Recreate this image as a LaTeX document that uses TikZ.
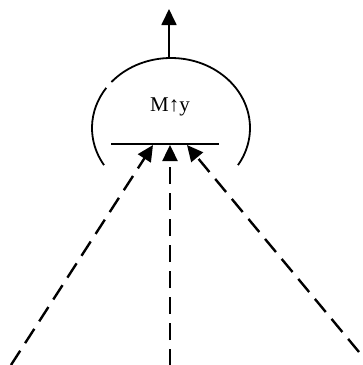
\documentclass[tikz,border=0pt]{standalone}
\usepackage{fontspec}
\setmainfont{Liberation Serif}
\usetikzlibrary{arrows.meta}
\begin{document}
\begin{tikzpicture}[x=1pt,y=1pt,
  solidline/.style={line width=1.8pt},
  dashline/.style={line width=2.4pt,dash pattern=on 17pt off 9pt},
  bigtip/.style={-{Triangle[length=16pt,width=15pt]}},
  lbl/.style={inner sep=0pt,font=\fontsize{21pt}{25pt}\selectfont}]
\useasboundingbox (0,0) rectangle (363,-365);
% top arrow
\coordinate (arctop) at (169,-58);
\coordinate (top) at (169,-9);
\draw[solidline,bigtip] (arctop) -- (top);
% ellipse arcs
\draw[solidline] (171,-128) ++(139:79 and 70) arc[start angle=139,end angle=-32,x radius=79,y radius=70];
\draw[solidline] (171,-128) ++(145:79 and 70) arc[start angle=145,end angle=212,x radius=79,y radius=70];
% label
\node[lbl] (m) at (170,-107) {M↑y};
% horizontal bar
\coordinate (barl) at (111,-144);
\coordinate (barr) at (219,-144);
\draw[solidline] (barl) -- (barr);
% dashed arrows
\coordinate (tl) at (153,-145);
\coordinate (tm) at (170,-145);
\coordinate (tr) at (187,-145);
\coordinate (bl) at (11,-365);
\coordinate (bm) at (170,-366);
\coordinate (br) at (359,-352);
\draw[dashline,bigtip] (bl) -- (tl);
\draw[dashline,bigtip] (bm) -- (tm);
\draw[dashline,bigtip] (br) -- (tr);
\end{tikzpicture}
\end{document}
